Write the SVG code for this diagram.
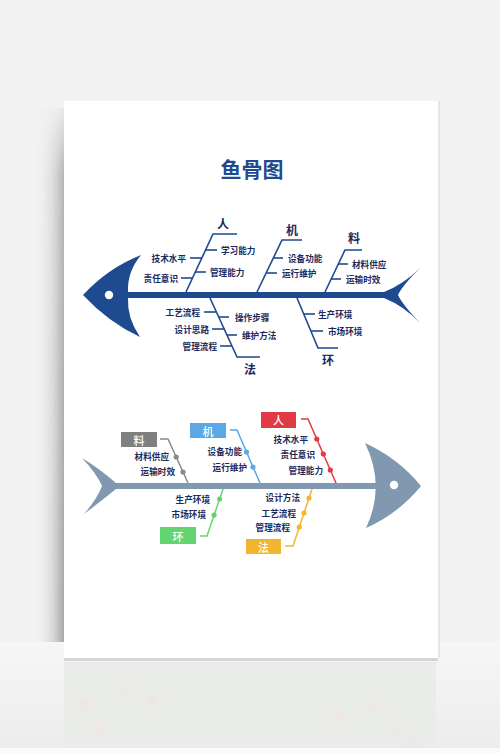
<svg xmlns="http://www.w3.org/2000/svg" width="500" height="753" viewBox="0 0 500 753">
<defs>
<linearGradient id="shadowL" x1="0" y1="0" x2="1" y2="0">
<stop offset="0" stop-color="#f2f2f2" stop-opacity="0"/>
<stop offset="0.6" stop-color="#cfcfcf" stop-opacity="0.7"/>
<stop offset="1" stop-color="#a5a5a5" stop-opacity="1"/>
</linearGradient>
<linearGradient id="fadeV" x1="0" y1="0" x2="0" y2="1">
<stop offset="0" stop-color="#fff" stop-opacity="0.1"/>
<stop offset="0.12" stop-color="#fff" stop-opacity="0.8"/>
<stop offset="1" stop-color="#fff" stop-opacity="1"/>
</linearGradient>
<mask id="shadowMask"><rect x="30" y="108" width="36" height="534" fill="url(#fadeV)"/></mask>
<linearGradient id="floor" x1="0" y1="0" x2="0" y2="1">
<stop offset="0" stop-color="#f6f6f6"/>
<stop offset="1" stop-color="#ececec"/>
</linearGradient>
<filter id="blur" x="-20%" y="-20%" width="140%" height="140%"><feGaussianBlur stdDeviation="3"/></filter>
<style>
.t{font-family:"Noto Sans CJK SC","Noto Sans",sans-serif;font-weight:700;fill:#1d2a5c;font-size:8.6px;dominant-baseline:central}
.e{text-anchor:end}
.lab{font-family:"Noto Sans CJK SC","Noto Sans",sans-serif;font-weight:700;fill:#1d2a5c;font-size:12px;text-anchor:middle;dominant-baseline:central}
.box{font-family:"Noto Sans CJK SC","Noto Sans",sans-serif;font-weight:500;fill:#fff;font-size:11px;text-anchor:middle;dominant-baseline:central}
.bone{fill:none;stroke:#1e4a8f;stroke-width:1.6}
.dash{stroke:#1e4a8f;stroke-width:1.6}
.c{fill:none;stroke-width:1.5}
.fishA{fill:#1e4a8f}
.fishB{fill:#8199b0}
</style>
</defs>

<!-- background -->
<rect x="0" y="0" width="500" height="753" fill="#f2f2f2"/>
<rect x="0" y="642" width="500" height="111" fill="url(#floor)"/>
<rect x="64" y="662" width="372" height="86" fill="#eaecea"/>
<g filter="url(#blur)" fill="#f3dede" opacity="0.5">
<circle cx="85" cy="705" r="6"/><circle cx="125" cy="690" r="5"/><circle cx="152" cy="700" r="5"/>
<circle cx="100" cy="730" r="6"/><circle cx="340" cy="715" r="6"/><circle cx="375" cy="705" r="5"/>
<circle cx="395" cy="730" r="5"/><circle cx="410" cy="742" r="5"/>
</g>
<rect x="0" y="748" width="500" height="5" fill="#fafafa"/>
<rect x="34" y="108" width="30" height="534" fill="url(#shadowL)" mask="url(#shadowMask)"/>
<rect x="64" y="658" width="374" height="3" fill="#d5d5d5"/>
<rect x="438" y="101" width="2" height="557" fill="#e6e6e6"/>
<rect x="64" y="101" width="374" height="557" fill="#ffffff"/>

<!-- title -->
<text x="252" y="168" font-family="'Noto Sans CJK SC','Noto Sans',sans-serif" font-weight="700" font-size="21" fill="#1e4a8f" text-anchor="middle" dominant-baseline="central">鱼骨图</text>

<!-- fish 1 body -->
<g id="fish1">
<path class="fishA" d="M83,295 Q108,268 141,255 Q127,272 128,292 L128,298 Q127,318 140,337 Q108,322 83,295 Z"/>
<rect class="fishA" x="126" y="292" width="262" height="6"/>
<path class="fishA" d="M384,292 Q404,284 420,268 Q402,286 398,295 Q402,304 420,323 Q404,306 384,298 Z"/>
<circle cx="109" cy="295" r="4.2" fill="#fff"/>
</g>

<g id="fish1-connectors">
<polyline class="bone" points="186,292 213,234 237,234"/>
<line class="dash" x1="190" y1="258" x2="202" y2="258"/>
<line class="dash" x1="181" y1="278" x2="193" y2="278"/>
<line class="dash" x1="205" y1="250" x2="217" y2="250"/>
<line class="dash" x1="195" y1="272" x2="206" y2="272"/>
<polyline class="bone" points="257,292 282,240 302,240"/>
<line class="dash" x1="273" y1="258" x2="283" y2="258"/>
<line class="dash" x1="266" y1="273" x2="277" y2="273"/>
<polyline class="bone" points="325,292 345,250 362,250"/>
<line class="dash" x1="338" y1="264" x2="348" y2="264"/>
<line class="dash" x1="331" y1="279" x2="341" y2="279"/>
<polyline class="bone" points="210,298 237,357 260,357"/>
<line class="dash" x1="204" y1="312" x2="216" y2="312"/>
<line class="dash" x1="212" y1="329" x2="224" y2="329"/>
<line class="dash" x1="220" y1="346" x2="232" y2="346"/>
<line class="dash" x1="219" y1="317" x2="229" y2="317"/>
<line class="dash" x1="227" y1="335" x2="237" y2="335"/>
<polyline class="bone" points="297,298 318,348 338,348"/>
<line class="dash" x1="304" y1="314" x2="315" y2="314"/>
<line class="dash" x1="311" y1="331" x2="323" y2="331"/>
</g>

<g id="f1-ren">
<text class="lab" x="223" y="223">人</text>
<text class="t e" x="186" y="258">技术水平</text>
<text class="t e" x="178" y="278">责任意识</text>
<text class="t" x="221" y="250">学习能力</text>
<text class="t" x="210" y="272">管理能力</text>
</g>
<g id="f1-ji">
<text class="lab" x="292" y="229">机</text>
<text class="t" x="288" y="258">设备功能</text>
<text class="t" x="282" y="273">运行维护</text>
</g>
<g id="f1-liao">
<text class="lab" x="354" y="237">料</text>
<text class="t" x="352" y="264">材料供应</text>
<text class="t" x="346" y="279">运输时效</text>
</g>
<g id="f1-fa">
<text class="lab" x="250" y="368">法</text>
<text class="t e" x="200" y="312">工艺流程</text>
<text class="t e" x="209" y="329">设计思路</text>
<text class="t e" x="217" y="346">管理流程</text>
<text class="t" x="235" y="317">操作步骤</text>
<text class="t" x="242" y="335">维护方法</text>
</g>
<g id="f1-huan">
<text class="lab" x="328" y="359">环</text>
<text class="t" x="318" y="314">生产环境</text>
<text class="t" x="328" y="331">市场环境</text>
</g>

<!-- fish 2 body -->
<g id="fish2">
<path class="fishB" d="M116,483 Q100,469 82,458 Q97,474 102,486 Q97,499 84,514 Q100,502 116,489 Z"/>
<rect class="fishB" x="110" y="483" width="266" height="6"/>
<path class="fishB" d="M365,443 Q398,458 421,486 Q398,514 366,528 Q386,486 365,443 Z"/>
<circle cx="394" cy="485" r="4.2" fill="#fff"/>
</g>

<g id="fish2-connectors">
<polyline class="c" stroke="#8a8a8a" points="160,439 168,439 188,483"/>
<circle cx="176.2" cy="457" r="2.6" fill="#8a8a8a"/>
<circle cx="183" cy="472" r="2.6" fill="#8a8a8a"/>
<polyline class="c" stroke="#5aa9e6" points="230,430 237,430 260,483"/>
<circle cx="246.5" cy="452" r="2.6" fill="#5aa9e6"/>
<circle cx="253" cy="467" r="2.6" fill="#5aa9e6"/>
<polyline class="c" stroke="#e03a45" points="301,419 308,419 336,483"/>
<circle cx="316.8" cy="439" r="2.6" fill="#e03a45"/>
<circle cx="323.3" cy="454" r="2.6" fill="#e03a45"/>
<circle cx="330.3" cy="470" r="2.6" fill="#e03a45"/>
<polyline class="c" stroke="#63d46f" points="200,536 207,536 223,489"/>
<circle cx="219.6" cy="499" r="2.6" fill="#63d46f"/>
<circle cx="214.1" cy="515" r="2.6" fill="#63d46f"/>
<polyline class="c" stroke="#f2b530" points="285,546 293,546 312,489"/>
<circle cx="309" cy="498" r="2.6" fill="#f2b530"/>
<circle cx="304" cy="513" r="2.6" fill="#f2b530"/>
<circle cx="299.3" cy="527" r="2.6" fill="#f2b530"/>
</g>

<g id="f2-liao">
<rect x="121" y="432" width="36" height="15" fill="#7f7f7f"/>
<text class="box" x="139" y="439.5">料</text>
<text class="t e" x="169" y="456">材料供应</text>
<text class="t e" x="175" y="471">运输时效</text>
</g>
<g id="f2-ji">
<rect x="190" y="423" width="36" height="15" fill="#5aa9e6"/>
<text class="box" x="208" y="430.5">机</text>
<text class="t e" x="242" y="451">设备功能</text>
<text class="t e" x="247" y="467">运行维护</text>
</g>
<g id="f2-ren">
<rect x="261" y="412" width="35" height="16" fill="#e03a45"/>
<text class="box" x="278.5" y="420">人</text>
<text class="t e" x="308" y="439">技术水平</text>
<text class="t e" x="315" y="454">责任意识</text>
<text class="t e" x="323" y="470">管理能力</text>
</g>
<g id="f2-huan">
<rect x="160" y="527" width="36" height="17" fill="#63d46f"/>
<text class="box" x="178" y="535.5">环</text>
<text class="t e" x="210" y="499">生产环境</text>
<text class="t e" x="206" y="514">市场环境</text>
</g>
<g id="f2-fa">
<rect x="246" y="539" width="35" height="15" fill="#f2b530"/>
<text class="box" x="263.5" y="546.5">法</text>
<text class="t e" x="300" y="497">设计方法</text>
<text class="t e" x="296" y="513">工艺流程</text>
<text class="t e" x="290" y="527">管理流程</text>
</g>
</svg>
